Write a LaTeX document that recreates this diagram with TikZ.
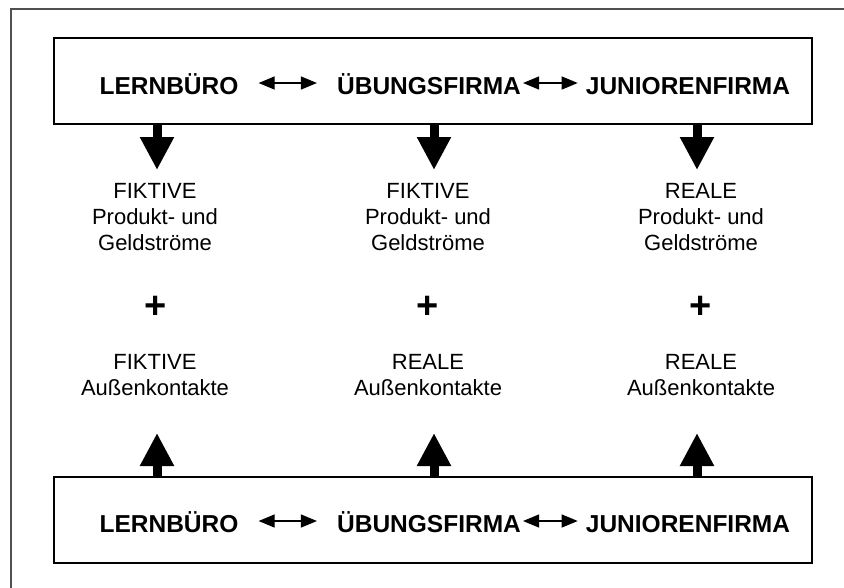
\documentclass[tikz,border=0pt]{standalone}
\usepackage{fontspec}
\setmainfont{Liberation Sans}
\usetikzlibrary{arrows.meta,positioning,calc}
\definecolor{ink}{RGB}{0,0,0}
\definecolor{frame}{RGB}{80,80,80}
\tikzset{
  box/.style={draw=ink,line width=1.2pt,minimum width=758pt,minimum height=86pt,inner sep=0pt},
  title/.style={font=\fontsize{24.5}{28}\selectfont\bfseries,inner sep=1pt,anchor=base},
  txt/.style={font=\fontsize{22}{26}\selectfont,align=center,inner sep=0pt},
  plus/.style={font=\fontsize{38}{40}\selectfont\bfseries,inner sep=0pt},
  bigarr/.style={-{Triangle[length=33pt,width=32pt]},line width=9pt,draw=ink},
  smallarr/.style={{Triangle[length=16pt,width=13pt]}-{Triangle[length=16pt,width=13pt]},line width=1.2pt,draw=ink}
}

\begin{document}
\begin{tikzpicture}[x=1pt,y=-1pt]
  \useasboundingbox (0,0) rectangle (844,587);
  \draw[frame,line width=1.5pt] (11,600) -- (11,9) -- (850,9);

  % top row
  \node[box] (topbox) at (433,81) {};
  \node[title] (lb1) at (169,94.5) {LERNBÜRO};
  \node[title] (uf1) at (429,94.5) {ÜBUNGSFIRMA};
  \node[title] (jf1) at (688,94.5) {JUNIORENFIRMA};
  \draw[smallarr,shorten <=19pt,shorten >=19pt] ([yshift=11.5pt]lb1.base east) -- ([yshift=11.5pt]uf1.base west);
  \draw[smallarr,shorten <=1pt,shorten >=7pt] ([yshift=11.5pt]uf1.base east) -- ([yshift=11.5pt]jf1.base west);

  % bottom row
  \node[box] (botbox) at (433,520) {};
  \node[title] (lb2) at (169,532.5) {LERNBÜRO};
  \node[title] (uf2) at (429,532.5) {ÜBUNGSFIRMA};
  \node[title] (jf2) at (688,532.5) {JUNIORENFIRMA};
  \draw[smallarr,shorten <=19pt,shorten >=19pt] ([yshift=11.5pt]lb2.base east) -- ([yshift=11.5pt]uf2.base west);
  \draw[smallarr,shorten <=1pt,shorten >=7pt] ([yshift=11.5pt]uf2.base east) -- ([yshift=11.5pt]jf2.base west);

  % middle columns
  \node[txt] (pf1) at (155,217) {FIKTIVE\\Produkt- und\\Geldströme};
  \node[txt] (pf2) at (428,217) {FIKTIVE\\Produkt- und\\Geldströme};
  \node[txt] (pf3) at (701,217) {REALE\\Produkt- und\\Geldströme};
  \node[plus] (pl1) at (156,307) {+};
  \node[plus] (pl2) at (428,307) {+};
  \node[plus] (pl3) at (701,307) {+};
  \node[txt] (ak1) at (155,375) {FIKTIVE\\Außenkontakte};
  \node[txt] (ak2) at (428,375) {REALE\\Außenkontakte};
  \node[txt] (ak3) at (701,375) {REALE\\Außenkontakte};

  % arrow tips
  \coordinate (d1) at (157,170);
  \coordinate (d2) at (434,170);
  \coordinate (d3) at (697,170);
  \coordinate (u1) at (157,433);
  \coordinate (u2) at (434,433);
  \coordinate (u3) at (697,433);
  \foreach \i in {1,2,3}{
    \draw[bigarr] (topbox.south -| d\i) -- (d\i);
    \draw[bigarr] (botbox.north -| u\i) -- (u\i);
  }
\end{tikzpicture}
\end{document}
